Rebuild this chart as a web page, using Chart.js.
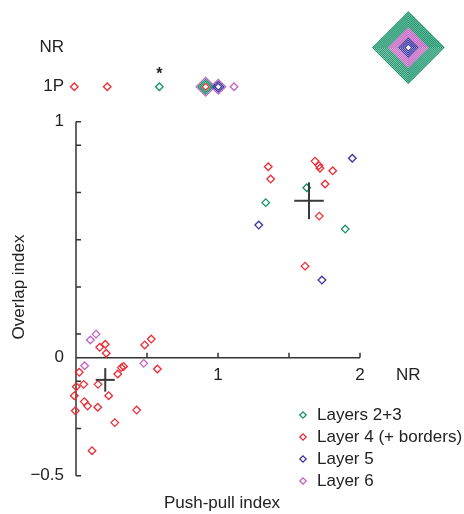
<!DOCTYPE html>
<html lang="en">
<head>
<meta charset="UTF-8">
<title>Push-pull vs overlap index</title>
<script src="https://cdn.jsdelivr.net/npm/chart.js@4"></script>
<style>
  html, body { margin: 0; padding: 0; background: #fff; }
</style>
</head>
<body>
<canvas id="chart" width="464" height="514"></canvas>
<script>
  // values
  const ROW_1P = 1.148;   // "1P" row (overlap index not resolved, one peak)
  const ROW_NR = 1.314;   // "NR" row
  const COL_NR = 2.34;    // "NR" column on the push-pull axis

  const xTickValues = [1, 2, COL_NR];
  const xTickLabels = ['1', '2', 'NR'];
  const xMinorTicks = [0.5, 1, 1.5, 2];
  const yTickValues = [-0.5, 0, 1, ROW_1P, ROW_NR];
  const yTickLabels = ['\u22120.5', '0', '1', '1P', 'NR'];
  const yMinorTicks = [-0.5, -0.3, -0.1, 0.1, 0.3, 0.5, 0.7, 0.9, 1];

  const L23_x = [1.625, 1.336, 1.896];
  const L23_y = [0.720, 0.657, 0.545];
  const L4_x = [1.354, 1.371, 1.683, 1.711, 1.718, 1.808, 1.754, 1.713, 1.613,
                0.167, 0.206, 0.213, 0.484, 0.530, 0.023, 0.294, 0.319, 0.335, 0.573,
                0.002, 0.054, 0.155, -0.012, 0.230, 0.058, 0.082, 0.153, -0.005, 0.427,
                0.273, 0.113];
  const L4_y = [0.809, 0.757, 0.833, 0.814, 0.803, 0.792, 0.736, 0.600, 0.388,
                0.044, 0.057, 0.019, 0.054, 0.079, -0.062, -0.069, -0.042, -0.037, -0.048,
                -0.123, -0.113, -0.113, -0.161, -0.161, -0.186, -0.205, -0.210, -0.225, -0.222,
                -0.275, -0.394];
  const L5_x = [1.946, 1.287, 1.732];
  const L5_y = [0.845, 0.562, 0.329];
  const L6_x = [0.101, 0.141, 0.061, 0.477];
  const L6_y = [0.075, 0.100, -0.034, -0.024];

  // cells on the 1P row, one marker each
  const L23_nrX = [0.587];
  const L4_nrX = [-0.012, 0.220];
  const L5_nrX = [];
  const L6_nrX = [1.113];

  // stacked cells: one ring per cell, listed from the inside out
  const stackX = [0.913, 1.002, COL_NR];
  const stackY = [ROW_1P, ROW_1P, ROW_NR];
  const stackRings = [
    ['L4', 'L23', 'L23', 'L6'],
    ['L5', 'L5', 'L6'],
    ['L5', 'L5', 'L5', 'L5', 'L6', 'L6', 'L6', 'L6', 'L6',
     'L23', 'L23', 'L23', 'L23', 'L23', 'L23', 'L23', 'L23']
  ];

  // population means with error bars
  const meanX = [0.206, 1.641];
  const meanY = [-0.094, 0.665];
  const errX = [0.067, 0.104];
  const errY = [0.050, 0.078];

  const FONT = 'Liberation Sans, Arial, Helvetica, sans-serif';
  const TEXT = '#222';

  const layers = [
    { key: 'L23', label: 'Layers 2+3', color: '#17936a', xs: L23_x, ys: L23_y, nr: L23_nrX },
    { key: 'L4', label: 'Layer 4 (+ borders)', color: '#ef2b33', xs: L4_x, ys: L4_y, nr: L4_nrX },
    { key: 'L5', label: 'Layer 5', color: '#3a35a0', xs: L5_x, ys: L5_y, nr: L5_nrX },
    { key: 'L6', label: 'Layer 6', color: '#c263c2', xs: L6_x, ys: L6_y, nr: L6_nrX }
  ];

  const datasets = [];

  meanX.forEach((mx, i) => {
    const my = meanY[i];
    const segs = [
      [{ x: mx - errX[i], y: my }, { x: mx + errX[i], y: my }],
      [{ x: mx, y: my - errY[i] }, { x: mx, y: my + errY[i] }]
    ];
    segs.forEach(seg => datasets.push({
      data: seg, showLine: true, pointRadius: 0, borderColor: '#3a3a3a',
      borderWidth: 2, clip: false
    }));
  });

  layers.forEach(l => {
    const pts = [], radii = [], widths = [];
    l.xs.forEach((x, i) => { pts.push({ x: x, y: l.ys[i] }); radii.push(3.8); widths.push(1.3); });
    l.nr.forEach(x => { pts.push({ x: x, y: ROW_1P }); radii.push(3.8); widths.push(1.3); });
    stackRings.forEach((rings, s) => {
      rings.forEach((k, r) => {
        if (k === l.key) {
          pts.push({ x: stackX[s], y: stackY[s] });
          radii.push(3.5 + 2 * r);
          widths.push(1.2);
        }
      });
    });
    datasets.push({
      label: l.label, data: pts, isLayer: true,
      pointStyle: 'rectRot', pointRadius: radii, pointHoverRadius: radii,
      pointBorderColor: l.color, pointBackgroundColor: 'rgba(0,0,0,0)',
      pointBorderWidth: widths, borderColor: l.color, clip: false
    });
  });

  const extras = {
    id: 'extras',
    beforeDatasetsDraw(chart) {
      const ctx = chart.ctx, xs = chart.scales.x, ys = chart.scales.y;
      const x0 = xs.getPixelForValue(0), y0 = ys.getPixelForValue(0);
      ctx.save();
      ctx.strokeStyle = '#333';
      ctx.lineWidth = 1.5;
      ctx.beginPath();
      ctx.moveTo(x0, ys.getPixelForValue(-0.5));
      ctx.lineTo(x0, ys.getPixelForValue(1));
      yMinorTicks.forEach(v => {
        const p = ys.getPixelForValue(v);
        ctx.moveTo(x0, p); ctx.lineTo(x0 + 5, p);
      });
      ctx.moveTo(x0, y0);
      ctx.lineTo(xs.getPixelForValue(2), y0);
      xMinorTicks.forEach(v => {
        const p = xs.getPixelForValue(v);
        ctx.moveTo(p, y0); ctx.lineTo(p, y0 - 5);
      });
      ctx.stroke();
      ctx.restore();
    },
    afterDraw(chart) {
      const ctx = chart.ctx, xs = chart.scales.x, ys = chart.scales.y;
      ctx.save();
      ctx.fillStyle = TEXT;
      ctx.font = '17px ' + FONT;
      ctx.textAlign = 'center';
      ctx.textBaseline = 'middle';
      ctx.fillText('Push-pull index', 222, 503);
      ctx.save();
      ctx.translate(19, 287);
      ctx.rotate(-Math.PI / 2);
      ctx.fillText('Overlap index', 0, 0);
      ctx.restore();

      // significance mark over the 1P cell
      ctx.font = 'bold 16px ' + FONT;
      ctx.fillText('*', xs.getPixelForValue(L23_nrX[0]), ys.getPixelForValue(ROW_1P) - 12);

      // legend
      ctx.font = '17px ' + FONT;
      ctx.textAlign = 'left';
      let row = 0;
      chart.data.datasets.forEach(ds => {
        if (!ds.isLayer) return;
        const y = 415 + row * 22, x = 303, r = 3.2;
        ctx.strokeStyle = ds.pointBorderColor;
        ctx.lineWidth = 1.3;
        ctx.beginPath();
        ctx.moveTo(x - r, y); ctx.lineTo(x, y - r); ctx.lineTo(x + r, y); ctx.lineTo(x, y + r);
        ctx.closePath();
        ctx.stroke();
        ctx.fillText(ds.label, 317, y);
        row++;
      });
      ctx.restore();
    }
  };

  const tickFont = { family: FONT, size: 17 };

  new Chart(document.getElementById('chart'), {
    type: 'scatter',
    data: { datasets: datasets },
    options: {
      responsive: false,
      animation: false,
      events: [],
      layout: { padding: 0, autoPadding: false },
      plugins: { legend: { display: false }, tooltip: { enabled: false } },
      scales: {
        x: {
          type: 'linear',
          position: { y: 0 },
          min: 0,
          max: (464 - 76) / 142,
          afterFit: s => { s.height = 0; s.paddingLeft = 0; s.paddingRight = 0; },
          afterBuildTicks: s => { s.ticks = xTickValues.map(v => ({ value: v })); },
          grid: { display: false, drawTicks: false },
          border: { display: false },
          ticks: {
            autoSkip: false, maxRotation: 0, padding: 7, color: TEXT, font: tickFont,
            callback: (v, i) => xTickLabels[i]
          }
        },
        y: {
          type: 'linear',
          position: 'left',
          min: -(514 - 357.7) / 236,
          max: 357.7 / 236,
          afterFit: s => { s.width = 76; s.paddingTop = 0; s.paddingBottom = 0; },
          afterBuildTicks: s => { s.ticks = yTickValues.map(v => ({ value: v })); },
          grid: { display: false, drawTicks: false },
          border: { display: false },
          ticks: {
            autoSkip: false, padding: 12, color: TEXT, font: tickFont,
            callback: (v, i) => yTickLabels[i]
          }
        }
      }
    },
    plugins: [extras]
  });
</script>
</body>
</html>
